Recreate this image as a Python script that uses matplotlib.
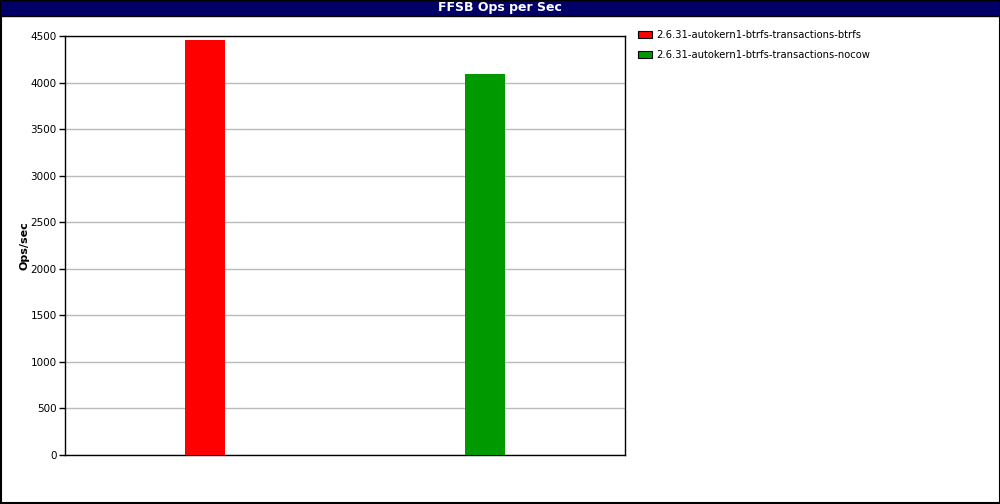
import matplotlib.pyplot as plt
from matplotlib.patches import Rectangle, Patch

series = ['2.6.31-autokern1-btrfs-transactions-btrfs',
          '2.6.31-autokern1-btrfs-transactions-nocow']
values = [4457, 4092]
colors = ['#ff0000', '#009900']
yticks = [0, 500, 1000, 1500, 2000, 2500, 3000, 3500, 4000, 4500]

fig = plt.figure(figsize=(10, 5.04), dpi=100)
fig.patch.set_facecolor('white')

# outer frame and title bar
fig.patches.append(Rectangle((0.0005, 0.001), 0.999, 0.998, transform=fig.transFigure,
                             fill=False, edgecolor='black', linewidth=1.5))
fig.patches.append(Rectangle((0, 1 - 16 / 504), 1, 16 / 504, transform=fig.transFigure,
                             facecolor='#000066', edgecolor='black', linewidth=1))
fig.text(0.5, 1 - 8 / 504, 'FFSB Ops per Sec', color='white', fontsize=9,
         fontweight='bold', ha='center', va='center')

ax = fig.add_axes([65 / 1000, 49 / 504, 560 / 1000, 419 / 504])
for i, (v, c) in enumerate(zip(values, colors)):
    ax.bar(i, v, width=40 / 280, color=c, zorder=3)
ax.set_xlim(-0.5, 1.5)
ax.set_ylim(0, 4500)
ax.set_yticks(yticks)
ax.set_xticks([])
ax.tick_params(axis='y', labelsize=7.5, length=4.5, width=1, pad=1.5)
ax.grid(axis='y', color='#bbbbbb', linewidth=1, zorder=0)
for s in ax.spines.values():
    s.set_linewidth(1)
ax.set_ylabel('Ops/sec', fontsize=8, fontweight='bold')
ax.yaxis.set_label_coords(-36 / 560, 0.5)

handles = [Patch(facecolor=c, edgecolor='black', linewidth=0.8) for c in colors]
fig.legend(handles, series, loc='upper left', bbox_to_anchor=(0.634, 0.948),
           frameon=False, fontsize=7.2, handlelength=1.4, handleheight=0.7,
           handletextpad=0.4, labelspacing=0.95, borderaxespad=0)

fig.savefig('out.png', dpi=100)
